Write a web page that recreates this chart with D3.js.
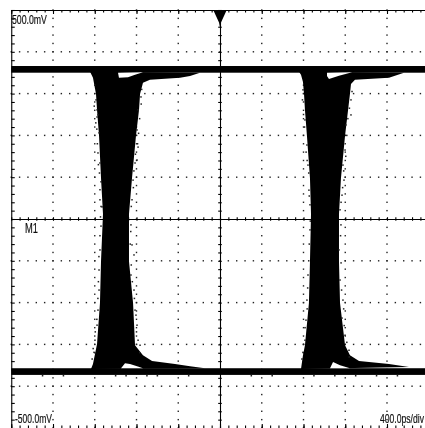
<!DOCTYPE html>
<html>
<head>
<meta charset="utf-8">
<title>Eye diagram</title>
<script src="https://cdn.jsdelivr.net/npm/d3@7"></script>
<style>
  html, body { margin: 0; padding: 0; background: #fff; overflow: hidden; }
  svg { display: block; }
  text { font-family: "Liberation Sans", sans-serif; fill: #111; stroke: #111; stroke-width: 0.2; }
</style>
</head>
<body>
<svg id="scope" width="425" height="428"></svg>
<script>
// Eye diagram. x in ps, y in mV.
const W = 425, H = 428;

const xDomain = [-2000, 2000];   // 400 ps/div
const yDomain = [-500, 500];     // 100 mV/div
const minorPs = 80, minorMv = 20;

const labelTop = '500.0mV';
const labelBottom = '-500.0mV';
const labelTime = '400.0ps/div';
const labelMath = 'M1';

// Settled logic levels, [upper mV, lower mV]
const highBand = [366, 350];
const lowBand = [-357, -373];

// Left crossing outline, clockwise from the top left
const leftCrossEdgeA = [[-1245, 352], [-1217, 338], [-1188, 299], [-1178, 261], [-1159, 199], [-1140, 98], [-1121, 12], [-1140, -101], [-1150, -201], [-1178, -299], [-1217, -347], [-1236, -359]];
const leftCrossEdgeB = [[-144, -357], [-287, -352], [-431, -347], [-651, -340], [-738, -326], [-814, -302], [-833, -201], [-872, -101], [-872, 12], [-843, 98], [-805, 199], [-776, 261], [-766, 299], [-738, 326], [-671, 333], [-383, 338], [-287, 342], [-192, 350]];

// Right crossing outline
const rightCrossEdgeA = [[757, 352], [776, 345], [795, 328], [805, 299], [814, 261], [833, 199], [862, 98], [872, 12], [862, -101], [852, -201], [814, -302], [795, -326], [776, -359]];
const rightCrossEdgeB = [[1811, -354], [1619, -347], [1332, -340], [1245, -326], [1198, -302], [1150, -201], [1140, -101], [1140, 12], [1159, 98], [1198, 199], [1245, 299], [1255, 323], [1293, 333], [1619, 338], [1763, 350]];

// White gaps behind the overshoot
const gaps = [
  [[-977, 350], [-738, 351], [-814, 345], [-881, 339], [-968, 338]],
  [[-948, -357], [-910, -345], [-862, -347], [-795, -352], [-738, -357]],
  [[1025, 350], [1265, 351], [1140, 343], [1044, 335], [1025, 342]],
  [[1054, -357], [1083, -342], [1150, -350], [1245, -357]]
];

// Stray samples along the crossing edges
const speckles = [
  [-1188, 285], [-1178, 244], [-1169, 249], [-1178, 261], [-1159, 206], [-1169, 158], [-1150, 134], [-1140, 89], [-1150, 46], [-1130, 29],
  [-1140, -17], [-1150, -74], [-1159, -122], [-1159, -170], [-1169, -218], [-1178, -254], [-1198, -290], [-1207, -319],
  [-1200, 320], [-1205, 270], [-1190, 230], [-1180, 215], [-1175, 180], [-1165, 130], [-1155, 110], [-1150, 70], [-1140, 30], [-1145, 5],
  [-1150, -40], [-1160, -90], [-1165, -150], [-1170, -190], [-1180, -240], [-1195, -270], [-1215, -310], [-1225, -335],
  [-757, 292], [-785, 261], [-795, 213], [-785, 172], [-814, 134], [-795, 141], [-833, 93], [-843, 46], [-853, -14], [-843, -62],
  [-824, -86], [-853, -134], [-824, -170], [-814, -218], [-795, -254], [-766, -302],
  [-750, 310], [-755, 275], [-770, 240], [-780, 205], [-790, 180], [-810, 155], [-825, 115], [-830, 75], [-850, 30], [-855, -30],
  [-860, -60], [-850, -110], [-840, -150], [-820, -190], [-805, -230], [-800, -270], [-785, -290], [-770, -320],
  [795, 309], [814, 237], [833, 177], [843, 129], [852, 69], [862, 34], [862, -26], [843, -134], [833, -194], [824, -242], [814, -290], [795, -319],
  [790, 285], [800, 250], [810, 220], [825, 160], [835, 140], [850, 110], [855, 55], [865, -5], [855, -60], [850, -100], [840, -165], [835, -215], [815, -260], [800, -300], [785, -335],
  [1255, 285], [1255, 249], [1207, 225], [1198, 165], [1178, 129], [1188, 93], [1169, 57], [1150, 22], [1159, -14], [1140, -74],
  [1150, -146], [1178, -194], [1169, -237], [1198, -278], [1236, -314],
  [1265, 305], [1240, 265], [1225, 240], [1215, 200], [1205, 150], [1185, 115], [1175, 75], [1160, 40], [1155, -40], [1160, -105],
  [1165, -170], [1185, -215], [1190, -255], [1215, -295], [1240, -330],
  // just under the low level
  [-1700, -375], [-1500, -375], [-1000, -375], [-900, -375], [-700, -375], [-600, -375], [-300, -375],
  [300, -375], [500, -375], [900, -375], [1100, -375], [1300, -375], [1500, -375], [1700, -375]
];

const x = d3.scaleLinear().domain(xDomain).range([11.25, 428.75]);
const y = d3.scaleLinear().domain(yDomain).range([428, 10]);

const svg = d3.select('#scope');
svg.append('rect').attr('width', W).attr('height', H).attr('fill', '#fff');

// Slight softening, the source is a resampled bitmap
const blur = svg.append('defs').append('filter').attr('id', 'soft')
  .attr('x', 0).attr('y', 0).attr('width', 1).attr('height', 1)
  .attr('filterUnits', 'objectBoundingBox');
blur.append('feGaussianBlur').attr('stdDeviation', 0.35);

const root = svg.append('g').attr('filter', 'url(#soft)');

const psTicks = d3.range(xDomain[0], xDomain[1] + 1, minorPs);
const mvTicks = d3.range(yDomain[0], yDomain[1] + 1, minorMv);
const psMajor = d3.range(xDomain[0], xDomain[1] + 1, 400);
const mvMajor = d3.range(yDomain[0], yDomain[1] + 1, 100);

// Dotted graticule
const dots = root.append('g').attr('fill', '#222');
psMajor.filter(d => d !== 0 && d !== xDomain[0]).forEach(p => {
  dots.append('g').selectAll('rect').data(mvTicks).join('rect')
    .attr('x', x(p) - 0.7).attr('y', d => y(d) - 0.7)
    .attr('width', 1.4).attr('height', 1.4);
});
mvMajor.filter(d => d !== 0 && Math.abs(d) !== 500).forEach(m => {
  dots.append('g').selectAll('rect').data(psTicks).join('rect')
    .attr('x', d => x(d) - 0.7).attr('y', y(m) - 0.7)
    .attr('width', 1.4).attr('height', 1.4);
});

function styleAxis(g) {
  g.selectAll('path.domain').attr('stroke', '#000').attr('stroke-width', 1.1);
  g.selectAll('.tick line').attr('stroke', '#000').attr('stroke-width', 1.1);
  g.selectAll('.tick text').remove();
}

// Frame ticks, longer on the divisions along top and bottom
root.append('g').attr('transform', `translate(0,${y(500)})`)
  .call(d3.axisBottom(x).tickValues(psTicks).tickSize(2.5).tickSizeOuter(0)).call(styleAxis);
root.append('g').attr('transform', `translate(0,${y(500)})`)
  .call(d3.axisBottom(x).tickValues(psMajor).tickSize(4).tickSizeOuter(0)).call(styleAxis)
  .select('path.domain').remove();
root.append('g').attr('transform', `translate(0,${y(-500)})`)
  .call(d3.axisTop(x).tickValues(psTicks).tickSize(2.5).tickSizeOuter(0)).call(styleAxis)
  .select('path.domain').remove();
root.append('g').attr('transform', `translate(0,${y(-500)})`)
  .call(d3.axisTop(x).tickValues(psMajor).tickSize(4).tickSizeOuter(0)).call(styleAxis)
  .select('path.domain').remove();
root.append('g').attr('transform', `translate(${x(-2000)},0)`)
  .call(d3.axisRight(y).tickValues(mvTicks).tickSize(3.5).tickSizeOuter(0)).call(styleAxis);

// Centre crosshair, ticks on both sides
root.append('g').attr('transform', `translate(0,${y(0)})`)
  .call(d3.axisBottom(x).tickValues(psTicks).tickSize(1.8).tickSizeOuter(0)).call(styleAxis)
  .selectAll('.tick line').attr('y1', -1.8);
root.append('g').attr('transform', `translate(${x(0)},0)`)
  .call(d3.axisRight(y).tickValues(mvTicks).tickSize(1.8).tickSizeOuter(0)).call(styleAxis)
  .selectAll('.tick line').attr('x1', -1.8);

// Logic levels
[highBand, lowBand].forEach(b => {
  root.append('rect')
    .attr('x', x(xDomain[0])).attr('width', x(xDomain[1]) - x(xDomain[0]))
    .attr('y', y(b[0])).attr('height', y(b[1]) - y(b[0]))
    .attr('fill', '#000');
});

// Crossings
const line = d3.line().x(d => x(d[0])).y(d => y(d[1]));
[leftCrossEdgeA.concat(leftCrossEdgeB), rightCrossEdgeA.concat(rightCrossEdgeB)].forEach(o => {
  root.append('path').attr('d', line(o) + 'Z').attr('fill', '#000');
});
gaps.forEach(o => {
  root.append('path').attr('d', line(o) + 'Z').attr('fill', '#fff');
});

root.append('g').attr('fill', '#222')
  .selectAll('rect').data(speckles).join('rect')
  .attr('x', d => x(d[0]) - 0.75).attr('y', d => y(d[1]) - 0.75)
  .attr('width', 1.5).attr('height', 1.5);

// Trigger marker
const tx = x(0), ty = y(500) + 0.5;
root.append('path')
  .attr('d', d3.line()([[tx - 6.5, ty], [tx + 6.5, ty], [tx + 1, ty + 12], [tx, ty + 17], [tx - 1, ty + 12]]) + 'Z')
  .attr('fill', '#000');

// Readouts, squeezed sideways to the scope's narrow lettering
function label(txt, px, py, len, size) {
  const t = root.append('text').attr('font-size', size).text(txt);
  const sx = len / t.node().getComputedTextLength();
  t.attr('transform', `translate(${px},${py}) scale(${sx},1)`);
  return t;
}
label(labelTop, 12, 23.5, 35, 13);
label(labelBottom, 15, 423, 37, 13);
label(labelTime, 380, 423, 44, 13);
label(labelMath, 25, 232.5, 13, 14);
</script>
</body>
</html>
